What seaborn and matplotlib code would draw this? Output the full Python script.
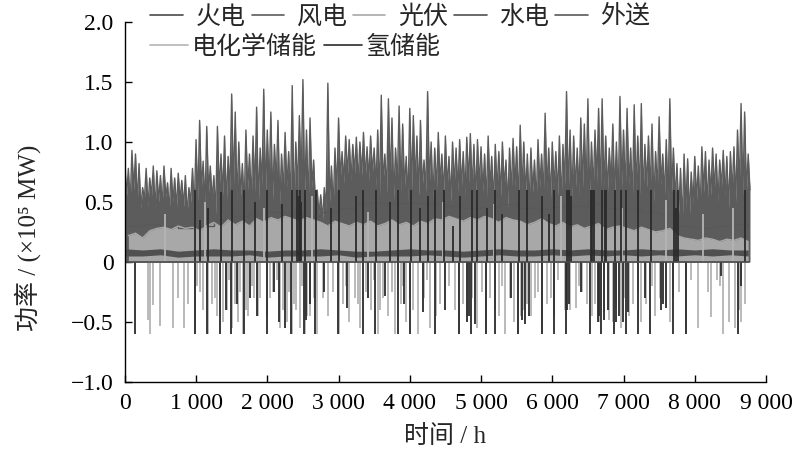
import numpy as np
import pandas as pd
import seaborn as sns
import matplotlib
matplotlib.use('Agg')
import matplotlib.pyplot as plt
from matplotlib.lines import Line2D
from matplotlib.ticker import FixedLocator, FixedFormatter

# legend names
series_names = ['火电', '风电', '光伏', '水电', '外送', '电化学储能', '氢储能']
series_colors = ['#4a4a4a', '#5c5c5c', '#a8a8a8', '#505050', '#595959', '#b4b4b4', '#2b2b2b']

# 火电 stays at zero all year
thermal_hours = [0, 8760]
thermal_power = [0.0, 0.0]

# 风电: peak and trough of each 50 h block (x 1e5 MW)
wind_peak = [0.85, 0.78, 0.93, 0.90, 0.82, 0.62, 0.78, 0.70, 0.80, 0.76,
             0.72, 0.80, 0.66, 0.78, 0.70, 0.74, 0.68, 0.72, 0.62, 0.78,
             1.02, 1.18, 0.84, 1.13, 0.80, 0.72, 1.13, 0.90, 1.05, 0.88,
             1.40, 1.25, 1.00, 0.82, 1.10, 0.90, 1.05, 1.29, 0.95, 1.44,
             1.10, 1.25, 0.98, 1.18, 0.90, 1.08, 0.92, 1.47, 1.00, 1.22,
             1.52, 1.10, 1.20, 0.85, 0.60, 0.56, 0.62, 1.49, 0.80, 0.95,
             1.20, 0.92, 1.05, 1.02, 0.98, 1.04, 1.00, 1.08, 0.96, 1.05,
             0.95, 1.10, 1.39, 0.90, 1.36, 1.20, 0.95, 1.30, 1.15, 0.88,
             1.28, 1.22, 1.05, 1.18, 0.85, 1.42, 1.00, 0.95, 1.08, 0.90,
             1.05, 0.88, 1.00, 0.95, 1.02, 0.92, 1.04, 1.07, 0.98, 1.02,
             0.96, 0.90, 1.05, 0.88, 0.98, 0.92, 1.00, 0.85, 0.95, 1.03,
             0.96, 1.14, 1.00, 0.90, 0.95, 0.85, 1.02, 0.90, 1.24, 0.95,
             1.00, 0.92, 1.05, 0.98, 1.42, 1.10, 1.05, 0.95, 1.20, 1.15,
             1.36, 1.00, 1.10, 1.28, 1.36, 1.05, 0.95, 1.15, 1.00, 1.38,
             1.10, 1.28, 0.95, 1.31, 1.05, 1.32, 0.98, 1.05, 1.15, 0.92,
             1.21, 0.90, 1.02, 1.36, 0.95, 0.82, 0.78, 0.90, 0.86, 0.75,
             0.88, 0.80, 0.96, 0.92, 0.85, 0.95, 0.90, 0.85, 0.93, 0.88,
             0.92, 0.96, 1.10, 1.32, 1.25, 0.90]
wind_low = [0.55, 0.48, 0.60, 0.50, 0.45, 0.52, 0.46, 0.55, 0.44, 0.50,
            0.47, 0.54, 0.42, 0.50, 0.45, 0.52, 0.46, 0.40, 0.50, 0.44,
            0.50, 0.62, 0.45, 0.58, 0.52, 0.40, 0.60, 0.55, 0.48, 0.58,
            0.62, 0.50, 0.55, 0.45, 0.60, 0.52, 0.58, 0.48, 0.62, 0.55,
            0.60, 0.52, 0.65, 0.48, 0.58, 0.62, 0.50, 0.45, 0.60, 0.66,
            0.55, 0.48, 0.62, 0.50, 0.40, 0.35, 0.42, 0.50, 0.45, 0.58,
            0.70, 0.65, 0.72, 0.68, 0.74, 0.66, 0.72, 0.70, 0.68, 0.74,
            0.62, 0.55, 0.65, 0.58, 0.66, 0.52, 0.64, 0.58, 0.62, 0.50,
            0.60, 0.66, 0.55, 0.62, 0.58, 0.65, 0.52, 0.60, 0.66, 0.55,
            0.62, 0.50, 0.65, 0.58, 0.62, 0.55, 0.66, 0.60, 0.52, 0.64,
            0.58, 0.50, 0.62, 0.48, 0.60, 0.55, 0.62, 0.45, 0.58, 0.62,
            0.50, 0.60, 0.55, 0.48, 0.58, 0.50, 0.62, 0.55, 0.60, 0.52,
            0.62, 0.55, 0.50, 0.64, 0.58, 0.52, 0.60, 0.55, 0.62, 0.58,
            0.52, 0.60, 0.66, 0.55, 0.62, 0.58, 0.64, 0.55, 0.50, 0.62,
            0.58, 0.64, 0.52, 0.60, 0.56, 0.55, 0.62, 0.58, 0.50, 0.60,
            0.64, 0.55, 0.50, 0.58, 0.52, 0.40, 0.32, 0.45, 0.38, 0.48,
            0.52, 0.42, 0.58, 0.48, 0.55, 0.60, 0.50, 0.62, 0.55, 0.45,
            0.58, 0.50, 0.62, 0.55, 0.58, 0.60]

# 光伏: daily peak level per 100 h block
solar_peak = [0.22, 0.24, 0.20, 0.26, 0.28, 0.29, 0.27, 0.30, 0.28, 0.29,
              0.26, 0.30, 0.33, 0.29, 0.35, 0.31, 0.34, 0.30, 0.36, 0.33,
              0.37, 0.35, 0.38, 0.36, 0.34, 0.37, 0.35, 0.33, 0.30, 0.34,
              0.32, 0.30, 0.33, 0.31, 0.34, 0.30, 0.32, 0.35, 0.31, 0.33,
              0.30, 0.34, 0.32, 0.36, 0.35, 0.38, 0.36, 0.34, 0.37, 0.35,
              0.38, 0.36, 0.33, 0.37, 0.35, 0.34, 0.31, 0.33, 0.36, 0.32,
              0.30, 0.33, 0.29, 0.31, 0.28, 0.30, 0.32, 0.27, 0.29, 0.30,
              0.28, 0.26, 0.29, 0.27, 0.25, 0.26, 0.28, 0.22, 0.20, 0.19,
              0.18, 0.20, 0.19, 0.17, 0.19, 0.18, 0.20, 0.17]

# 水电: band per 250 h block
hydro_hi = [0.11, 0.10, 0.11, 0.09, 0.10, 0.11, 0.10, 0.10, 0.09, 0.10,
            0.10, 0.11, 0.10, 0.09, 0.09, 0.10, 0.11, 0.10, 0.10, 0.09,
            0.10, 0.11, 0.10, 0.10, 0.11, 0.10, 0.11, 0.10, 0.10, 0.11,
            0.10, 0.11, 0.10, 0.11, 0.10, 0.10]
hydro_lo = [0.05, 0.05, 0.06, 0.04, 0.05, 0.05, 0.05, 0.06, 0.04, 0.05,
            0.05, 0.05, 0.06, 0.04, 0.05, 0.05, 0.05, 0.06, 0.05, 0.04,
            0.05, 0.06, 0.05, 0.05, 0.06, 0.05, 0.06, 0.05, 0.06, 0.05,
            0.06, 0.05, 0.06, 0.05, 0.06, 0.05]

# 外送: level per 250 h block
export_power = [0.30, 0.32, 0.30, 0.28, 0.30, 0.35, 0.38, 0.40, 0.42, 0.40,
                0.38, 0.42, 0.45, 0.49, 0.49, 0.49, 0.49, 0.49, 0.47, 0.45,
                0.46, 0.48, 0.45, 0.44, 0.46, 0.47, 0.48, 0.45, 0.44, 0.42,
                0.40, 0.30, 0.28, 0.30, 0.32, 0.30]

# 电化学储能 charge / discharge events
ess_hours = [320, 350, 400, 490, 670, 750, 830, 890, 980, 1050,
             1170, 1220, 1290, 1380, 1430, 1500, 1590, 1660, 1730, 1820,
             1900, 1990, 2080, 2180, 2270, 2340, 2410, 2460, 2530, 2600,
             2700, 2780, 2850, 2920, 3000, 3060, 3150, 3230, 3300, 3380,
             3460, 3550, 3620, 3700, 3790, 3870, 3950, 4050, 4120, 4200,
             4280, 4370, 4690, 4750, 4950, 5070, 5130, 5250, 5330, 5400,
             5460, 5520, 5600, 5700, 5760, 5850, 5920, 6020, 6250, 6330,
             6420, 6600, 6650, 6720, 6800, 6900, 6960, 7140, 7250, 7440,
             7510, 7650, 7780, 7880, 8040, 8230, 8310, 8400, 8480, 8570,
             8650, 8700,
             560, 1120, 1950, 2630, 3420, 4460, 5180, 6120, 6980, 7600,
             8120, 8540]
ess_power = [-0.48, -0.60, -0.36, -0.53, -0.55, -0.30, -0.55, -0.35, -0.60, -0.25,
             -0.60, -0.35, -0.45, -0.50, -0.40, -0.55, -0.50, -0.60, -0.45, -0.30,
             -0.30, -0.45, -0.25, -0.55, -0.50, -0.60, -0.40, -0.55, -0.60, -0.45,
             -0.60, -0.30, -0.45, -0.25, -0.60, -0.35, -0.50, -0.30, -0.55, -0.25,
             -0.40, -0.60, -0.30, -0.45, -0.60, -0.35, -0.50, -0.40, -0.60, -0.30,
             -0.55, -0.45, -0.60, -0.35, -0.55, -0.60, -0.30, -0.45, -0.60, -0.30,
             -0.50, -0.60, -0.40, -0.45, -0.30, -0.60, -0.35, -0.45, -0.40, -0.38,
             -0.25, -0.35, -0.50, -0.42, -0.48, -0.38, -0.55, -0.35, -0.50, -0.45,
             -0.30, -0.50, -0.25, -0.60, -0.55, -0.46, -0.15, -0.60, -0.50, -0.55,
             -0.50, -0.35,
             0.40, 0.50, 0.45, 0.55, 0.42, 0.50, 0.48, 0.55, 0.45, 0.52,
             0.40, 0.45]
# shorter 电化学储能 charging events
ess2_hours = [1010, 1100, 1260, 1330, 1460, 1550, 1620, 1700, 1780, 1870,
              2040, 2130, 2220, 2300, 2380, 2490, 2560, 2650, 3100, 3270,
              3500, 3580, 3750, 3900, 4000, 4240, 4420, 4550, 4640, 4800,
              4880, 5020, 5200, 5290, 5560, 5650, 5800, 5980, 6080, 6180,
              6370, 6490, 6560, 6690, 6850, 7000, 7080, 7200, 7320, 7400,
              7700, 7950, 8180, 8350, 8620]
ess2_power = [-0.20, -0.40, -0.30, -0.45, -0.15, -0.35, -0.25, -0.40, -0.20, -0.45,
              -0.30, -0.15, -0.40, -0.25, -0.35, -0.20, -0.45, -0.30, -0.20, -0.35,
              -0.15, -0.40, -0.25, -0.20, -0.30, -0.15, -0.35, -0.20, -0.40, -0.45,
              -0.30, -0.25, -0.40, -0.20, -0.45, -0.35, -0.25, -0.30, -0.15, -0.40,
              -0.20, -0.35, -0.45, -0.40, -0.50, -0.30, -0.45, -0.25, -0.35, -0.20,
              -0.30, -0.15, -0.25, -0.20, -0.40]

# 氢储能 events
h2_hours = [140, 980, 990, 1060, 1150, 1170, 1330, 1350, 1420, 1490,
            1500, 1580, 1670, 1680, 1760, 1830, 1850, 1990, 2000, 2100,
            2170, 2200, 2250, 2330, 2340, 2420, 2440, 2460, 2480, 2510,
            2530, 2550, 2600, 2670, 2690, 2800, 2900, 2990, 3000, 3120,
            3250, 3340, 3350, 3420, 3510, 3520, 3650, 3720, 3830, 3840,
            3920, 4010, 4020, 4150, 4180, 4260, 4350, 4360, 4480, 4500,
            4600, 4690, 4700, 4800, 4830, 4860, 4880, 4920, 4950, 5070,
            5080, 5190, 5200, 5300, 5420, 5520, 5530, 5580, 5620, 5650,
            5680, 5850, 5860, 5960, 6020, 6030, 6190, 6200, 6210, 6230,
            6240, 6260, 6400, 6530, 6540, 6560, 6580, 6640, 6660, 6690,
            6700, 6720, 6740, 6760, 6780, 6870, 6880, 6900, 6930, 6960,
            6990, 7030, 7040, 7070, 7200, 7210, 7300, 7370, 7380, 7520,
            7560, 7600, 7700, 7710, 7740, 7760, 7880, 8370, 8610, 8650,
            8700]
h2_power = [-0.60, 0.60, -0.60, 0.35, -0.60, 0.45, -0.60, 0.58, -0.40, -0.60,
            0.60, -0.35, -0.60, 0.60, -0.30, 0.50, -0.45, -0.60, 0.60, -0.25,
            -0.50, 0.48, -0.55, -0.60, 0.60, 0.60, 0.55, 0.60, 0.50, -0.60,
            0.60, -0.48, -0.35, -0.60, 0.60, -0.25, 0.45, -0.60, 0.60, -0.38,
            0.55, -0.60, 0.60, -0.30, -0.60, 0.60, -0.28, 0.50, -0.60, 0.60,
            -0.35, -0.60, 0.60, 0.45, -0.42, 0.55, -0.60, 0.60, 0.60, -0.40,
            0.30, -0.60, 0.55, -0.50, -0.45, -0.60, 0.60, -0.52, 0.60, -0.60,
            0.45, -0.60, 0.60, 0.40, -0.30, -0.60, 0.60, -0.48, -0.52, 0.60,
            -0.45, -0.60, 0.55, 0.40, -0.60, 0.60, -0.60, -0.40, 0.60, -0.35,
            0.60, 0.55, -0.25, -0.60, 0.60, 0.60, 0.60, -0.50, -0.45, -0.60,
            0.60, -0.48, 0.60, 0.60, -0.40, -0.60, 0.60, -0.50, -0.45, 0.60,
            -0.50, -0.60, 0.60, -0.42, -0.60, 0.60, -0.30, -0.60, 0.60, -0.40,
            -0.35, -0.38, -0.60, 0.60, 0.45, 0.60, -0.60, -0.12, -0.60, -0.20,
            0.60]

x_ticks = [0, 1000, 2000, 3000, 4000, 5000, 6000, 7000, 8000, 9000]
x_labels = ['0', '1 000', '2 000', '3 000', '4 000', '5 000', '6 000', '7 000', '8 000', '9 000']
y_ticks = [-1.0, -0.5, 0, 0.5, 1.0, 1.5, 2.0]
y_labels = ['\u22121.0', '\u22120.5', '0', '0.5', '1.0', '1.5', '2.0']

sns.set_theme(style='ticks')
plt.rcParams['font.family'] = ['Liberation Serif', 'Noto Sans CJK SC', 'DejaVu Sans']
plt.rcParams['axes.unicode_minus'] = False

fig = plt.figure(figsize=(8, 4.63), dpi=100)
ax = fig.add_axes([0.156, 0.175, 0.8015, 0.7775])

# wind zigzag: peak then trough in each block
n_wind = len(wind_peak)
wind_df = pd.DataFrame({
    'hour': np.ravel(np.column_stack([np.arange(n_wind) * 50, np.arange(n_wind) * 50 + 25])),
    'power': np.ravel(np.column_stack([wind_peak, wind_low])),
})
export_hours = np.arange(len(export_power)) * 250
ax.step(export_hours, export_power, where='post', color=series_colors[4], lw=1.0)
ax.fill_between(wind_df['hour'], 0, wind_df['power'], color=series_colors[1], lw=0)
sns.lineplot(data=wind_df, x='hour', y='power', color=series_colors[1], lw=1.0,
             estimator=None, sort=False, ax=ax)

solar_hours = np.arange(len(solar_peak)) * 100 + 50
ax.fill_between(solar_hours, 0, solar_peak, color=series_colors[2], lw=0)
sns.lineplot(x=solar_hours, y=solar_peak, color=series_colors[2], lw=1.0, ax=ax)

hydro_hours = np.arange(len(hydro_hi)) * 250
ax.fill_between(hydro_hours, hydro_lo, hydro_hi, color=series_colors[3], lw=0)

ax.vlines(list(ess_hours) + list(ess2_hours), 0, list(ess_power) + list(ess2_power),
          color=series_colors[5], lw=1.3)
ax.vlines(h2_hours, 0, h2_power, color=series_colors[6], lw=1.3)
sns.lineplot(x=thermal_hours, y=thermal_power, color=series_colors[0], lw=1.2, ax=ax)

ax.set_xlim(0, 9000)
ax.set_ylim(-1.0, 2.0)
ax.xaxis.set_major_locator(FixedLocator(x_ticks))
ax.xaxis.set_major_formatter(FixedFormatter(x_labels))
ax.yaxis.set_major_locator(FixedLocator(y_ticks))
ax.yaxis.set_major_formatter(FixedFormatter(y_labels))
ax.tick_params(direction='in', length=5, width=1, labelsize=17, colors='black', pad=8)
for side in ['top', 'right']:
    ax.spines[side].set_visible(False)
for side in ['left', 'bottom']:
    ax.spines[side].set_color('black')
    ax.spines[side].set_linewidth(1)

ax.set_xlabel('时间 / h', fontsize=18, labelpad=8)
ax.set_ylabel('功率 / (×10\u2075 MW)', fontsize=18)
ax.yaxis.set_label_coords(-0.13, 0.4)

handles = [Line2D([0], [0], color=c, lw=1.2) for c in series_colors]
leg1 = fig.legend(handles[:5], series_names[:5], loc='center left',
                  bbox_to_anchor=(0.188, 1 - 17 / 463), ncol=5, frameon=False,
                  fontsize=18, handlelength=1.3, handletextpad=0.5,
                  columnspacing=0.25, borderpad=0, borderaxespad=0)
leg2 = fig.legend(handles[5:], series_names[5:], loc='center left',
                  bbox_to_anchor=(0.188, 1 - 47 / 463), ncol=2, frameon=False,
                  fontsize=18, handlelength=1.5, handletextpad=0.15,
                  columnspacing=0.3, borderpad=0, borderaxespad=0)

fig.savefig('out.png', dpi=100)
